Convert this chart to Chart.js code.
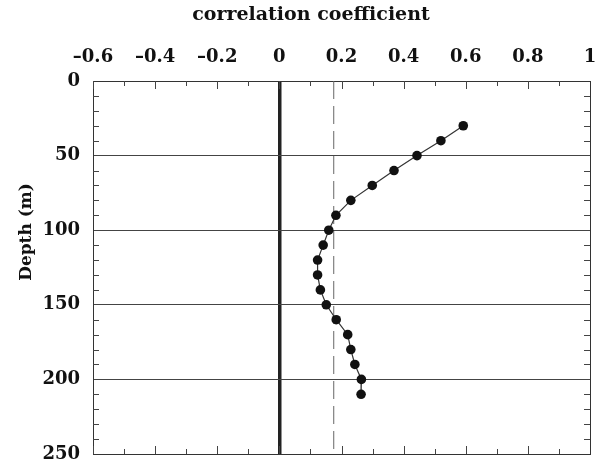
<!DOCTYPE html>
<html><head><meta charset="utf-8">
<script src="https://cdn.jsdelivr.net/npm/chart.js@4.4.0/dist/chart.umd.min.js"></script>
<style>html,body{margin:0;padding:0;background:#fff}#wrap{width:606px;height:465px;position:relative}</style>
</head><body><div id="wrap"><canvas id="c"></canvas></div>
<script>
// ---- data ----
const depths = [30, 40, 50, 60, 70, 80, 90, 100, 110, 120, 130, 140, 150, 160, 170, 180, 190, 200, 210];
const correlation = [0.592, 0.520, 0.443, 0.369, 0.299, 0.230, 0.182, 0.159, 0.141, 0.123, 0.123, 0.132, 0.151, 0.183, 0.220, 0.230, 0.243, 0.264, 0.263];
const significanceLevel = 0.175;
const xTickValues = [-0.6, -0.4, -0.2, 0, 0.2, 0.4, 0.6, 0.8, 1];
const yTickValues = [0, 50, 100, 150, 200, 250];
const xTitle = 'correlation coefficient';
const yTitle = 'Depth (m)';

const FONT = '"DejaVu Serif", "Liberation Serif", serif';

function fmtX(v) {
  const r = Math.round(v * 10) / 10;
  if (r === 0) return '0';
  if (r === 1) return '1';
  return (r < 0 ? '\u2013' : '') + Math.abs(r).toFixed(1);
}

const frameAndTicks = {
  id: 'frameAndTicks',
  afterDatasetsDraw(chart) {
    const { ctx, chartArea: a, scales } = chart;
    const xs = scales.x, ys = scales.y;
    ctx.save();
    ctx.strokeStyle = '#444';
    ctx.lineWidth = 1;
    for (let i = -6; i <= 10; i++) {
      const v = i / 10;
      const px = Math.round(xs.getPixelForValue(v)) + 0.5;
      const len = (i % 2 === 0) ? 8 : 5;
      ctx.beginPath();
      ctx.moveTo(px, a.top); ctx.lineTo(px, a.top + len);
      ctx.moveTo(px, a.bottom); ctx.lineTo(px, a.bottom - len);
      ctx.stroke();
    }
    for (let d = 10; d < 250; d += 10) {
      if (d % 50 === 0) continue;
      const py = Math.round(ys.getPixelForValue(d)) + 0.5;
      ctx.beginPath();
      ctx.moveTo(a.left, py); ctx.lineTo(a.left + 6, py);
      ctx.moveTo(a.right, py); ctx.lineTo(a.right - 6, py);
      ctx.stroke();
    }
    ctx.strokeStyle = '#333';
    ctx.beginPath();
    ctx.moveTo(Math.round(a.right) + 0.5, a.top);
    ctx.lineTo(Math.round(a.right) + 0.5, a.bottom);
    ctx.moveTo(a.left, Math.round(a.bottom) + 0.5);
    ctx.lineTo(a.right + 1, Math.round(a.bottom) + 0.5);
    ctx.stroke();
    ctx.restore();
  },
  afterDraw(chart) {
    const { ctx } = chart;
    ctx.save();
    ctx.fillStyle = '#111';
    ctx.font = 'bold 19px ' + FONT;
    ctx.textAlign = 'center';
    ctx.textBaseline = 'middle';
    ctx.fillText(xTitle, 311, 15);
    ctx.translate(27, 232);
    ctx.rotate(-Math.PI / 2);
    ctx.font = 'bold 17px ' + FONT;
    ctx.fillText(yTitle, 0, 0);
    ctx.restore();
  }
};

new Chart(document.getElementById('c'), {
  type: 'scatter',
  data: {
    datasets: [
      {
        label: 'significance',
        data: [{ x: significanceLevel, y: 0 }, { x: significanceLevel, y: 250 }],
        showLine: true,
        borderColor: '#666',
        borderWidth: 1,
        borderDash: [18, 7],
        pointRadius: 0,
        order: 2
      },
      {
        label: 'correlation',
        data: depths.map((d, i) => ({ x: correlation[i], y: d })),
        showLine: true,
        borderColor: '#333',
        borderWidth: 1.2,
        pointRadius: 4.8,
        pointBackgroundColor: '#111',
        pointBorderColor: '#111',
        pointBorderWidth: 0,
        order: 1
      }
    ]
  },
  options: {
    responsive: true,
    maintainAspectRatio: false,
    animation: false,
    events: [],
    layout: { padding: { left: 0, top: 0, right: 16, bottom: 11 } },
    plugins: { legend: { display: false }, tooltip: { enabled: false }, title: { display: false } },
    scales: {
      x: {
        type: 'linear',
        position: 'top',
        min: -0.6,
        max: 1,
        afterBuildTicks(scale) { scale.ticks = xTickValues.map(v => ({ value: v })); },
        afterFit(scale) {
          scale.height = 81;
          scale.paddingLeft = 0; scale.paddingRight = 0;
          scale.paddingTop = 0; scale.paddingBottom = 0;
        },
        ticks: {
          callback: fmtX,
          color: '#111',
          padding: 13,
          maxRotation: 0,
          autoSkip: false,
          font: { family: FONT, size: 18, weight: 'bold' }
        },
        grid: {
          drawTicks: false,
          color: c => (c.tick && Math.abs(c.tick.value) < 1e-9) ? '#222' : 'rgba(0,0,0,0)',
          lineWidth: c => (c.tick && Math.abs(c.tick.value) < 1e-9) ? 3.5 : 0
        },
        border: { display: true, color: '#333', width: 1 }
      },
      y: {
        type: 'linear',
        reverse: true,
        min: 0,
        max: 250,
        afterBuildTicks(scale) { scale.ticks = yTickValues.map(v => ({ value: v })); },
        afterFit(scale) {
          scale.width = 93;
          scale.paddingLeft = 0; scale.paddingRight = 0;
          scale.paddingTop = 0; scale.paddingBottom = 0;
        },
        ticks: {
          color: '#111',
          padding: 13,
          autoSkip: false,
          font: { family: FONT, size: 18, weight: 'bold' }
        },
        grid: {
          drawTicks: false,
          color: c => (c.tick && (c.tick.value === 0 || c.tick.value === 250)) ? 'rgba(0,0,0,0)' : '#444',
          lineWidth: 1
        },
        border: { display: true, color: '#333', width: 1 }
      }
    }
  },
  plugins: [frameAndTicks]
});
</script>
</body></html>
